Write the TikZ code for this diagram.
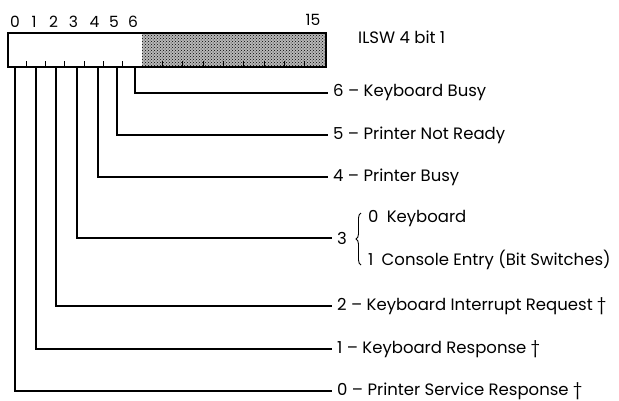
\documentclass[tikz,border=0pt]{standalone}
\usepackage{fontspec}
\setmainfont{Poppins}
\usetikzlibrary{patterns,decorations.pathreplacing}
\begin{document}
\begin{tikzpicture}[x=1pt,y=-1pt,
  conn/.style={line width=1.1pt},
  lbl/.style={anchor=west,inner xsep=5pt,inner ysep=0pt,font=\fontsize{16.5}{19}\selectfont},
  bitnum/.style={inner sep=0pt,font=\fontsize{15.5}{18}\selectfont},
  tickmark/.style={line width=1pt},
  bracestyle/.style={decorate,decoration={brace,amplitude=5pt},line width=0.9pt}]
\useasboundingbox (0,0) rectangle (619,400);
% register box
\fill[black!28] (142,32) rectangle (325,66);
\fill[pattern=crosshatch dots,pattern color=black] (142,32) rectangle (325,66);
\node[draw,line width=1.8pt,minimum width=318pt,minimum height=34pt,inner sep=0pt,anchor=north west] (box) at (7,32) {};
\foreach \x in {26.3,45.6,64.9,84.1,103.4,122.7,162.3,182.7,203,223.3,243.7,264,284.3,304.7}
  \draw[tickmark] (\x,66) -- (\x,60.5);
% bit numbers
\node[bitnum] (n0) at (15,22) {0};
\node[bitnum] (n1) at (34,22) {1};
\node[bitnum] (n2) at (53.5,22) {2};
\node[bitnum] (n3) at (73.5,22) {3};
\node[bitnum] (n4) at (94.5,22) {4};
\node[bitnum] (n5) at (114,22) {5};
\node[bitnum] (n6) at (133,22) {6};
\node[bitnum] (n15) at (313,20) {15};
\node[lbl] (title) at (353,37) {ILSW 4 bit 1};
% tap points
\coordinate (t0) at (15,66);
\coordinate (t1) at (36,66);
\coordinate (t2) at (56,66);
\coordinate (t3) at (77,66);
\coordinate (t4) at (98,66);
\coordinate (t5) at (117,66);
\coordinate (t6) at (135,66);
% labels
\node[lbl] (l6) at (328,93) {6 – Keyboard Busy};
\node[lbl] (l5) at (328,135) {5 – Printer Not Ready};
\node[lbl] (l4) at (328,177) {4 – Printer Busy};
\node[lbl] (l3) at (332,238) {3};
\node[lbl] (k0) at (363,219) {0\enspace Keyboard};
\node[lbl] (k1) at (363,260) {1\enspace Console Entry (Bit Switches)};
\node[lbl] (l2) at (332,306) {2 – Keyboard Interrupt Request †};
\node[lbl] (l1) at (332,349) {1 – Keyboard Response †};
\node[lbl] (l0) at (332,391) {0 – Printer Service Response †};
\draw[bracestyle] (361,265) -- (361,213);
% connectors
\foreach \i in {0,...,6} \draw[conn] (t\i) |- (l\i.west);
\end{tikzpicture}
\end{document}
